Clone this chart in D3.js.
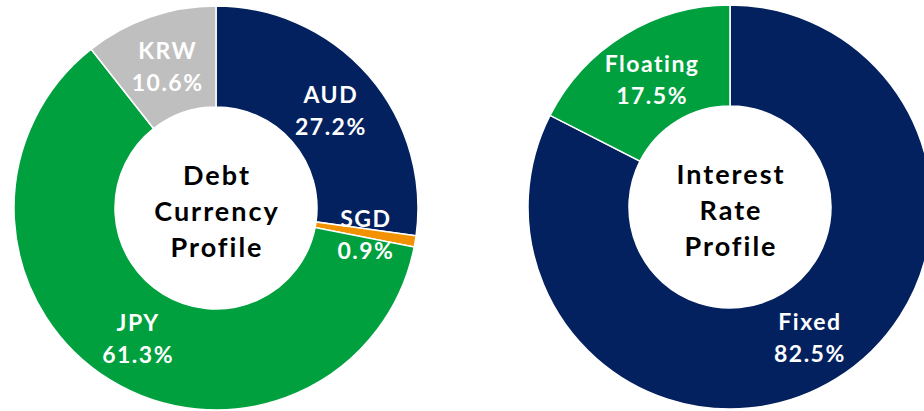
<!DOCTYPE html>
<html lang="en">
<head>
  <meta charset="UTF-8">
  <title>Debt profile donuts</title>
  <script src="https://cdn.jsdelivr.net/npm/d3@7"></script>
  <style type="text/css">
    html, body { margin:0; padding:0; background:white; }
    svg { display:block; }
    text { font-family: "Century Gothic", Lato, "DejaVu Sans", sans-serif; font-weight: bold; }
  </style>
</head>
<body>
<svg id="chart" width="924" height="411"></svg>
<script>

  // debt currency profile
  const currencies = ['AUD', 'SGD', 'JPY', 'KRW'];
  const currencyShare = [27.2, 0.9, 61.3, 10.6];
  const currencyColors = ['#04215F', '#F39200', '#00A03E', '#BFBFBF'];
  const currencyTitle = ['Debt', 'Currency', 'Profile'];

  // interest rate profile
  const rateTypes = ['Fixed', 'Floating'];
  const rateShare = [82.5, 17.5];
  const rateColors = ['#04215F', '#00A03E'];
  const rateTitle = ['Interest', 'Rate', 'Profile'];

  const outerR = 202, innerR = 101, labelR = 151;
  const svg = d3.select('#chart');

  function donut(cx, cy, names, values, colors, title){
    let g = svg.append('g').attr('transform', 'translate(' + cx + ',' + cy + ')');
    let rows = names.map((n, i) => ({name: n, value: values[i], color: colors[i]}));
    let pie = d3.pie().sort(null).value(d => d.value);
    let arc = d3.arc().innerRadius(innerR).outerRadius(outerR);
    let labelArc = d3.arc().innerRadius(labelR).outerRadius(labelR);
    let slices = pie(rows);

    g.selectAll('path').data(slices).enter().append('path')
      .attr('d', arc)
      .attr('fill', d => d.data.color)
      .attr('stroke', 'white')
      .attr('stroke-width', 1.5);

    // letter-spacing widens Lato toward the geometric face of the original
    let labels = g.selectAll('text.lbl').data(slices).enter().append('text')
      .attr('class', 'lbl')
      .attr('fill', 'white')
      .attr('font-size', 23)
      .attr('letter-spacing', 1.5)
      .attr('text-anchor', 'middle');
    labels.append('tspan')
      .attr('x', d => labelArc.centroid(d)[0] + 1)
      .attr('y', d => labelArc.centroid(d)[1] - 6)
      .text(d => d.data.name);
    labels.append('tspan')
      .attr('x', d => labelArc.centroid(d)[0] + 1)
      .attr('y', d => labelArc.centroid(d)[1] + 26)
      .text(d => d.data.value.toFixed(1) + '%');

    // title in the hole
    g.append('text')
      .attr('text-anchor', 'middle')
      .attr('font-size', 27)
      .attr('letter-spacing', 2)
      .attr('fill', 'black')
      .selectAll('tspan').data(title).enter().append('tspan')
      .attr('x', 1)
      .attr('y', (d, i) => -23 + i * 36)
      .text(d => d);
  }

  donut(216, 208, currencies, currencyShare, currencyColors, currencyTitle);
  donut(730, 207, rateTypes, rateShare, rateColors, rateTitle);

</script>
</body>
</html>
